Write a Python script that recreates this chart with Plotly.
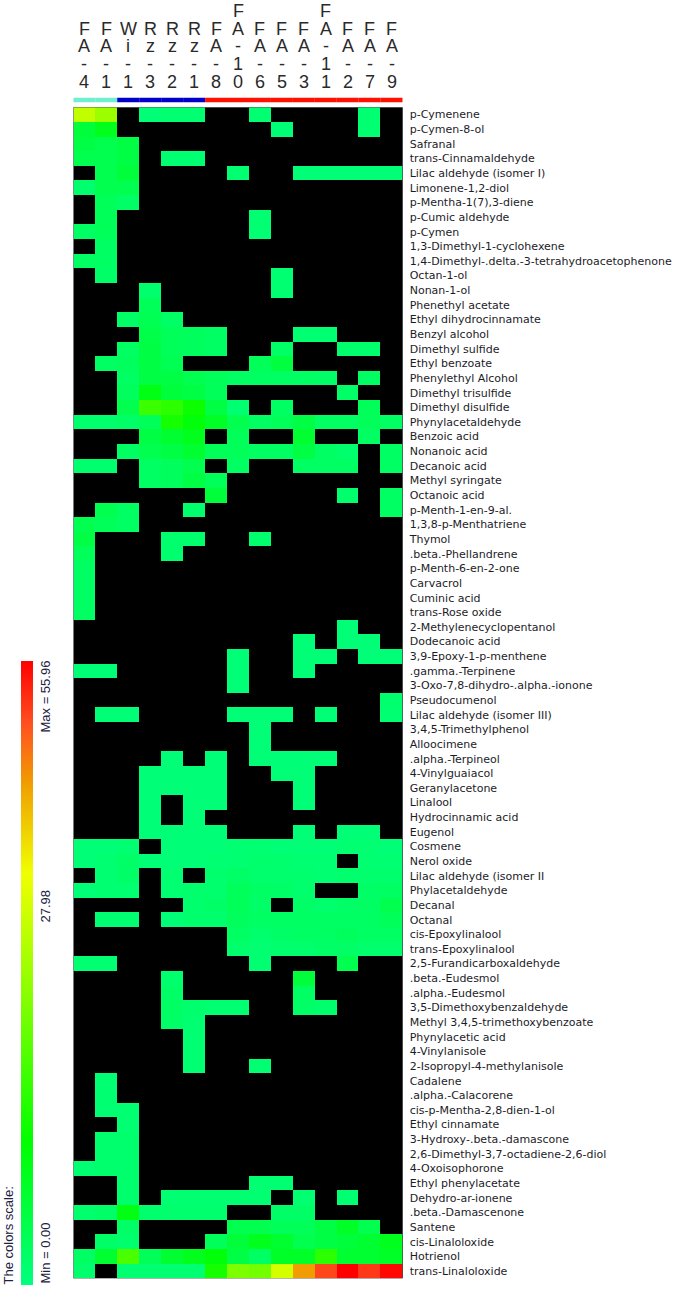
import plotly.graph_objects as go

samples = ["FA-4", "FA-1", "Wi-1", "Rz-3", "Rz-2", "Rz-1", "FA-8", "FA-10",
           "FA-6", "FA-5", "FA-3", "FA-11", "FA-2", "FA-7", "FA-9"]
sample_group = ["g1", "g1", "g2", "g2", "g2", "g2", "g3", "g3",
                "g3", "g3", "g3", "g3", "g3", "g3", "g3"]
group_colors = {"g1": "#6FEFD0", "g2": "#0000C8", "g3": "#FF1000"}

compounds = [
    "p-Cymenene", "p-Cymen-8-ol", "Safranal", "trans-Cinnamaldehyde",
    "Lilac aldehyde (isomer I)", "Limonene-1,2-diol", "p-Mentha-1(7),3-diene",
    "p-Cumic aldehyde", "p-Cymen", "1,3-Dimethyl-1-cyclohexene",
    "1,4-Dimethyl-.delta.-3-tetrahydroacetophenone", "Octan-1-ol", "Nonan-1-ol",
    "Phenethyl acetate", "Ethyl dihydrocinnamate", "Benzyl alcohol",
    "Dimethyl sulfide", "Ethyl benzoate", "Phenylethyl Alcohol",
    "Dimethyl trisulfide", "Dimethyl disulfide", "Phynylacetaldehyde",
    "Benzoic acid", "Nonanoic acid", "Decanoic acid", "Methyl syringate",
    "Octanoic acid", "p-Menth-1-en-9-al.", "1,3,8-p-Menthatriene", "Thymol",
    ".beta.-Phellandrene", "p-Menth-6-en-2-one", "Carvacrol", "Cuminic acid",
    "trans-Rose oxide", "2-Methylenecyclopentanol", "Dodecanoic acid",
    "3,9-Epoxy-1-p-menthene", ".gamma.-Terpinene",
    "3-Oxo-7,8-dihydro-.alpha.-ionone", "Pseudocumenol",
    "Lilac aldehyde (isomer III)", "3,4,5-Trimethylphenol", "Alloocimene",
    ".alpha.-Terpineol", "4-Vinylguaiacol", "Geranylacetone", "Linalool",
    "Hydrocinnamic acid", "Eugenol", "Cosmene", "Nerol oxide",
    "Lilac aldehyde (isomer II", "Phylacetaldehyde", "Decanal", "Octanal",
    "cis-Epoxylinalool", "trans-Epoxylinalool", "2,5-Furandicarboxaldehyde",
    ".beta.-Eudesmol", ".alpha.-Eudesmol", "3,5-Dimethoxybenzaldehyde",
    "Methyl 3,4,5-trimethoxybenzoate", "Phynylacetic acid", "4-Vinylanisole",
    "2-Isopropyl-4-methylanisole", "Cadalene", ".alpha.-Calacorene",
    "cis-p-Mentha-2,8-dien-1-ol", "Ethyl cinnamate",
    "3-Hydroxy-.beta.-damascone", "2,6-Dimethyl-3,7-octadiene-2,6-diol",
    "4-Oxoisophorone", "Ethyl phenylacetate", "Dehydro-ar-ionene",
    ".beta.-Damascenone", "Santene", "cis-Linaloloxide", "Hotrienol",
    "trans-Linaloloxide",
]

# 0 = not detected (drawn black)
values = [
    [32, 28, 0, 1, 1.5, 1.5, 0, 0, 1.5, 0, 0, 0, 0, 1.5, 0],
    [7, 10, 0, 0, 0, 0, 0, 0, 0, 1, 0, 0, 0, 1.5, 0],
    [6, 5, 6, 0, 0, 0, 0, 0, 0, 0, 0, 0, 0, 0, 0],
    [5, 5, 6, 0, 1.5, 1.5, 0, 0, 0, 0, 0, 0, 0, 0, 0],
    [0, 5, 7, 0, 0, 0, 0, 1.5, 0, 0, 1, 1, 1, 1, 1],
    [2, 5, 5, 0, 0, 0, 0, 0, 0, 0, 0, 0, 0, 0, 0],
    [0, 4, 2.5, 0, 0, 0, 0, 0, 0, 0, 0, 0, 0, 0, 0],
    [0, 4, 0, 0, 0, 0, 0, 0, 1.5, 0, 0, 0, 0, 0, 0],
    [3, 4, 0, 0, 0, 0, 0, 0, 1.5, 0, 0, 0, 0, 0, 0],
    [0, 3, 0, 0, 0, 0, 0, 0, 0, 0, 0, 0, 0, 0, 0],
    [3, 3, 0, 0, 0, 0, 0, 0, 0, 0, 0, 0, 0, 0, 0],
    [0, 2.5, 0, 0, 0, 0, 0, 0, 0, 1.5, 0, 0, 0, 0, 0],
    [0, 0, 0, 2, 0, 0, 0, 0, 0, 1.5, 0, 0, 0, 0, 0],
    [0, 0, 0, 4, 0, 0, 0, 0, 0, 0, 0, 0, 0, 0, 0],
    [0, 0, 2.5, 4.5, 2.5, 0, 0, 0, 0, 0, 0, 0, 0, 0, 0],
    [0, 0, 0, 5.5, 4, 3.5, 3, 0, 0, 0, 1.5, 1.5, 0, 0, 0],
    [0, 0, 3, 6, 4, 3.5, 3, 0, 0, 2.5, 0, 0, 2, 2, 0],
    [0, 3, 3.5, 6, 4.5, 0, 0, 0, 4, 6.5, 0, 0, 0, 0, 0],
    [0, 0, 3, 6, 6, 5, 4, 3, 3, 3, 3, 2.5, 0, 3, 0],
    [0, 0, 3.5, 11, 7, 6, 4, 0, 0, 0, 0, 0, 2.5, 0, 0],
    [0, 0, 5, 18.5, 17, 14, 6, 1.5, 0, 3, 0, 0, 0, 4, 0],
    [2, 2, 2.5, 4, 15, 12, 9, 5, 3, 4, 6, 3, 3, 4, 3],
    [0, 0, 0, 6, 8, 10, 0, 4, 0, 0, 8, 0, 0, 3, 0],
    [0, 0, 3, 5, 6, 8, 4, 4, 3, 3, 6, 3, 2, 0, 3],
    [2, 2, 0, 3, 3.5, 5, 0, 3, 0, 0, 3, 3, 3, 0, 3],
    [0, 0, 0, 3, 3.5, 6, 4, 0, 0, 0, 0, 0, 0, 0, 0],
    [0, 0, 0, 0, 0, 0, 7, 0, 0, 0, 0, 0, 2, 0, 3],
    [0, 5, 3, 0, 0, 2, 0, 0, 0, 0, 0, 0, 0, 0, 3],
    [5, 4, 3, 0, 0, 0, 0, 0, 0, 0, 0, 0, 0, 0, 0],
    [6, 0, 0, 0, 2, 2, 0, 0, 2, 0, 0, 0, 0, 0, 0],
    [4, 0, 0, 0, 2, 0, 0, 0, 0, 0, 0, 0, 0, 0, 0],
    [3, 0, 0, 0, 0, 0, 0, 0, 0, 0, 0, 0, 0, 0, 0],
    [3, 0, 0, 0, 0, 0, 0, 0, 0, 0, 0, 0, 0, 0, 0],
    [3, 0, 0, 0, 0, 0, 0, 0, 0, 0, 0, 0, 0, 0, 0],
    [3, 0, 0, 0, 0, 0, 0, 0, 0, 0, 0, 0, 0, 0, 0],
    [0, 0, 0, 0, 0, 0, 0, 0, 0, 0, 0, 0, 1, 0, 0],
    [0, 0, 0, 0, 0, 0, 0, 0, 0, 0, 1, 0, 1, 1, 0],
    [0, 0, 0, 0, 0, 0, 0, 1, 0, 0, 1, 1, 0, 1, 1],
    [1, 1, 0, 0, 0, 0, 0, 1, 0, 0, 1, 0, 0, 0, 0],
    [0, 0, 0, 0, 0, 0, 0, 1, 0, 0, 0, 0, 0, 0, 0],
    [0, 0, 0, 0, 0, 0, 0, 0, 0, 0, 0, 0, 0, 0, 2],
    [0, 1, 1, 0, 0, 0, 0, 1, 1, 1, 0, 1, 0, 0, 1.5],
    [0, 0, 0, 0, 0, 0, 0, 0, 1, 0, 0, 0, 0, 0, 0],
    [0, 0, 0, 0, 0, 0, 0, 0, 1, 0, 0, 0, 0, 0, 0],
    [0, 0, 0, 0, 1, 0, 1, 0, 1, 1, 1, 1, 0, 0, 0],
    [0, 0, 0, 1, 1, 1, 1, 0, 0, 1, 1, 0, 0, 0, 0],
    [0, 0, 0, 1, 1, 1, 1, 0, 0, 0, 1, 0, 0, 0, 0],
    [0, 0, 0, 1, 0, 1, 1, 0, 0, 0, 1, 0, 0, 0, 0],
    [0, 0, 0, 1, 0, 1, 0, 0, 0, 0, 0, 0, 0, 0, 0],
    [0, 0, 0, 1, 1, 1, 1, 0, 0, 0, 1, 0, 1, 1, 0],
    [1, 1, 1.5, 0, 1, 1, 1, 1.5, 1.5, 1, 1, 1, 1.5, 1.5, 1],
    [1, 1.5, 2.5, 1, 1, 1, 1.5, 1.5, 2, 2, 1.5, 1.5, 0, 1.5, 1.5],
    [0, 1.5, 2.5, 0, 1.5, 0, 2, 2.5, 2, 2, 2, 1.5, 2, 2, 2],
    [1, 1.5, 1.5, 0, 1.5, 2, 2, 4, 3, 2.5, 2, 0, 0, 2.5, 3],
    [0, 0, 0, 0, 0, 2, 2.5, 4, 2.5, 0, 2.5, 2, 2.5, 3, 5],
    [0, 1.5, 1.5, 0, 1, 2, 2, 3.5, 3, 3, 3, 3, 3, 3, 4],
    [0, 0, 0, 0, 0, 0, 0, 3, 2, 2.5, 3, 3, 3.5, 3, 3],
    [0, 0, 0, 0, 0, 0, 0, 2, 1.5, 2, 2, 2.5, 2.5, 2, 2],
    [1.5, 1.5, 0, 0, 0, 0, 0, 0, 1.5, 0, 0, 0, 5, 0, 0],
    [0, 0, 0, 0, 2, 0, 0, 0, 0, 0, 7, 0, 0, 0, 0],
    [0, 0, 0, 0, 2.5, 0, 0, 0, 0, 0, 3, 0, 0, 0, 0],
    [0, 0, 0, 0, 3, 2, 1.5, 1.5, 0, 0, 2.5, 2, 0, 0, 0],
    [0, 0, 0, 0, 2.5, 1.5, 0, 0, 0, 0, 0, 0, 0, 0, 0],
    [0, 0, 0, 0, 0, 1.5, 0, 0, 0, 0, 0, 0, 0, 0, 0],
    [0, 0, 0, 0, 0, 1.5, 0, 0, 0, 0, 0, 0, 0, 0, 0],
    [0, 0, 0, 0, 0, 1.5, 0, 0, 1.5, 0, 0, 0, 0, 0, 0],
    [0, 1.5, 0, 0, 0, 0, 0, 0, 0, 0, 0, 0, 0, 0, 0],
    [0, 1.5, 0, 0, 0, 0, 0, 0, 0, 0, 0, 0, 0, 0, 0],
    [0, 1.5, 1.5, 0, 0, 0, 0, 0, 0, 0, 0, 0, 0, 0, 0],
    [0, 0, 1.5, 0, 0, 0, 0, 0, 0, 0, 0, 0, 0, 0, 0],
    [0, 2, 2, 0, 0, 0, 0, 0, 0, 0, 0, 0, 0, 0, 0],
    [0, 2, 2, 0, 0, 0, 0, 0, 0, 0, 0, 0, 0, 0, 0],
    [1.5, 2, 2, 0, 0, 0, 0, 0, 0, 0, 0, 0, 0, 0, 0],
    [0, 0, 2, 0, 0, 0, 0, 0, 1.5, 1.5, 0, 0, 0, 0, 0],
    [0, 0, 2, 0, 1.5, 1.5, 1.5, 1.5, 1.5, 0, 1.5, 0, 1.5, 0, 0],
    [2, 2.5, 11, 2, 2, 2, 2, 0, 0, 2.5, 2.5, 0, 0, 0, 0],
    [0, 0, 2.5, 0, 0, 0, 0, 5, 5, 4, 4, 6, 9, 5, 0],
    [0, 2.5, 2, 0, 0, 0, 4, 7, 10, 8, 5, 6, 7, 8, 10],
    [3, 8, 20, 4, 8, 10, 12, 6, 3, 9, 9, 17, 8, 8, 9],
    [2, 0, 1.5, 1.5, 1.5, 1.5, 15, 25, 24, 34, 45, 51, 55.96, 52, 55.5],
]

W, H = 685, 1290
hm_left, hm_right = 73.3, 402.7
hm_top, hm_bottom = 107.3, 1278.3

z = [[(v if v > 0 else None) for v in row] for row in values]
zmax = max(max(r) for r in values)

colorscale = [
    [0.0, "#00FF80"],
    [0.23, "#00FF00"],
    [0.45, "#80FF00"],
    [0.66, "#F0FF00"],
    [0.80, "#F0A000"],
    [0.90, "#FF5020"],
    [1.0, "#FF0000"],
]

fig = go.Figure()
fig.add_trace(go.Heatmap(
    z=z,
    x=list(range(len(samples))),
    y=list(range(len(compounds))),
    colorscale=colorscale,
    zmin=0, zmax=zmax,
    zsmooth=False,
    hoverongaps=False,
    colorbar=dict(
        thickness=12, thicknessmode="pixels",
        len=624, lenmode="pixels",
        x=20.7 / W, xanchor="left", xref="container",
        y=1 - 973 / H, yanchor="middle", yref="container",
        xpad=0, ypad=0,
        showticklabels=False, ticks="", outlinewidth=0,
    ),
))

fig.update_layout(
    width=W, height=H,
    margin=dict(l=0, r=0, t=0, b=0, pad=0, autoexpand=False),
    paper_bgcolor="white",
    plot_bgcolor="black",
    showlegend=False,
    xaxis=dict(
        domain=[hm_left / W, hm_right / W],
        range=[-0.5, len(samples) - 0.5],
        showticklabels=False, showgrid=False, zeroline=False, ticks="",
        fixedrange=True, automargin=False,
    ),
    yaxis=dict(
        domain=[1 - hm_bottom / H, 1 - hm_top / H],
        range=[len(compounds) - 0.5, -0.5],
        side="right",
        tickmode="array",
        tickvals=list(range(len(compounds))),
        ticktext=compounds,
        tickfont=dict(family="DejaVu Sans", size=11, color="#1c1c28"),
        ticks="", ticklabelstandoff=6,
        showgrid=False, zeroline=False, automargin=False,
    ),
)

# group bar above the heatmap
bar_y0, bar_y1 = 1 - 102.3 / H, 1 - 97.7 / H
for i, g in enumerate(sample_group):
    fig.add_shape(type="rect", xref="x", yref="paper",
                  x0=i - 0.5, x1=i + 0.5, y0=bar_y0, y1=bar_y1,
                  fillcolor=group_colors[g], line=dict(width=0), layer="above")

# left border line of the heatmap
fig.add_shape(type="line", xref="x", yref="paper", x0=-0.5, x1=-0.5,
              y0=1 - hm_bottom / H, y1=1 - hm_top / H,
              line=dict(color="#999999", width=1))

# vertical stacked column labels
slot_centers = [11, 28.75, 46.5, 64.25, 82]
for i, name in enumerate(samples):
    chars = list(name)
    start = len(slot_centers) - len(chars)
    for k, ch in enumerate(chars):
        fig.add_annotation(
            x=i, xref="x", y=1 - slot_centers[start + k] / H, yref="paper",
            text=ch, showarrow=False, xanchor="center", yanchor="middle",
            font=dict(family="Liberation Sans", size=18, color="#2a2a2a"),
        )

# colour scale texts
cb_font = dict(family="Liberation Sans", size=13, color="#202040")
for txt, xc, yc in [("Max = 55.96", 44.5, 697), ("27.98", 44.5, 906),
                    ("Min = 0.00", 44.5, 1253), ("The colors scale:", 7.5, 1236)]:
    fig.add_annotation(x=xc / W, xref="paper", y=1 - yc / H, yref="paper",
                       text=txt, showarrow=False, textangle=-90,
                       xanchor="center", yanchor="middle", font=cb_font)

fig.write_html(
    "out.html",
    config={"displayModeBar": False},
    post_script="document.body.style.margin='0';document.body.style.padding='0';",
)
